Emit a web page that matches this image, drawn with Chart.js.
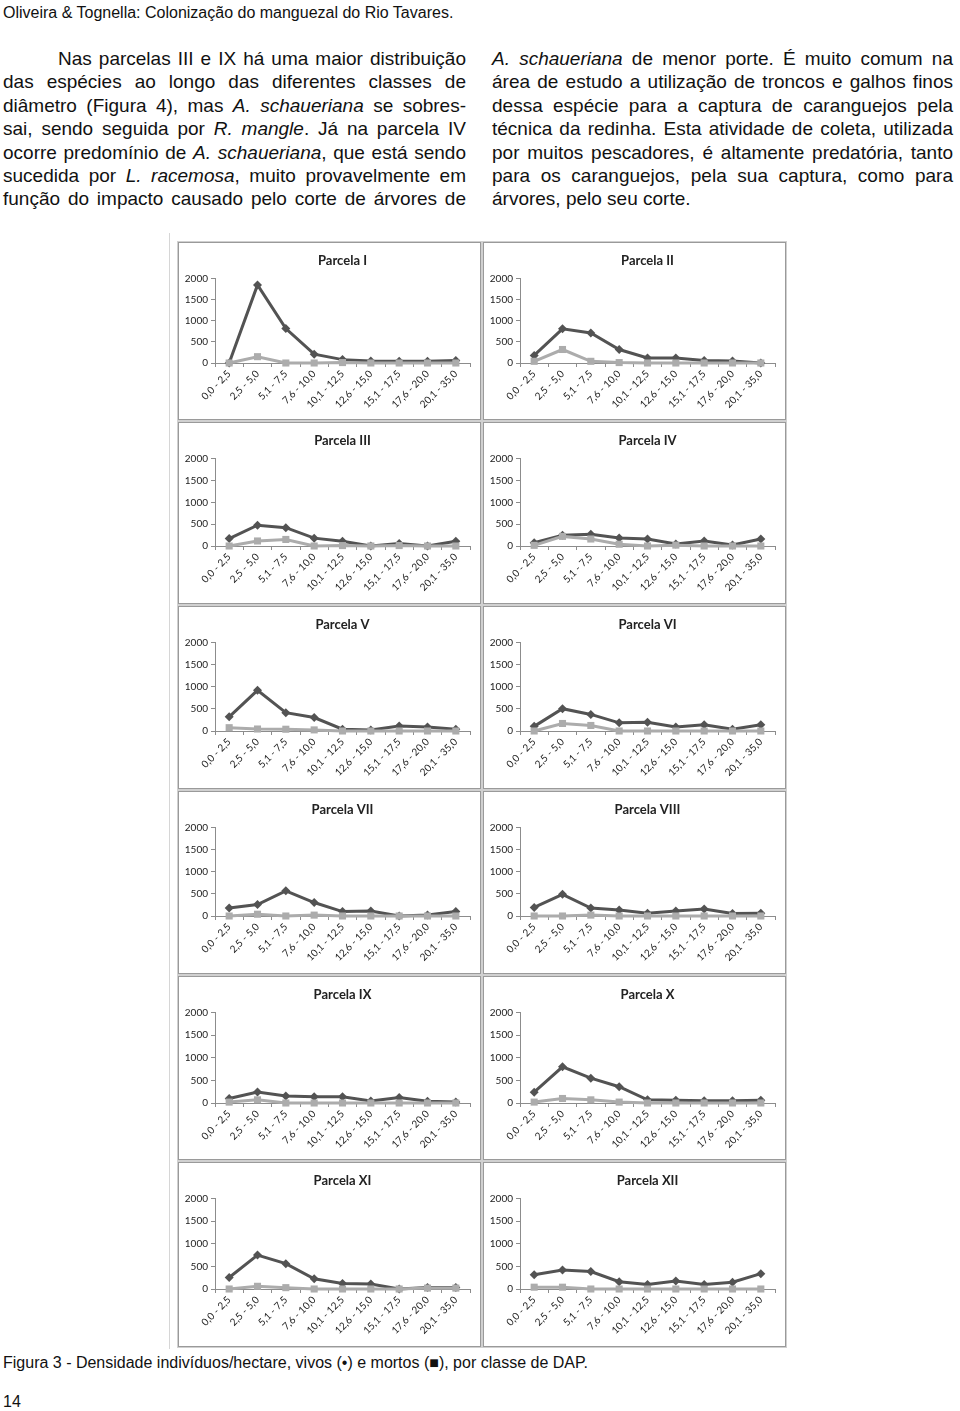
<!DOCTYPE html>
<html lang="pt">
<head>
<meta charset="utf-8">
<script src="https://cdn.jsdelivr.net/npm/chart.js@4.4.1/dist/chart.umd.min.js"></script>
<style>
  body { margin: 0; width: 960px; height: 1411px; background: #fff; position: relative; overflow: hidden;
         font-family: "Liberation Sans", Arial, sans-serif; color: #111; }
  .hdr { position: absolute; left: 3px; top: 4px; font-size: 16px; line-height: 17px; }
  .col { position: absolute; top: 47px; font-size: 19px; line-height: 23.4px; }
  .col div { text-align: justify; text-align-last: justify; }
  .col div.last { text-align-last: left; }
  .frame { position: absolute; left: 169px; top: 233px; width: 1px; height: 1116px; background: #d6d6d6; }
  .panel { position: absolute; border: 1px solid #9a9a9a; box-shadow: 0 0 0 1px #d0d0d0; box-sizing: border-box; pointer-events: none; }
  canvas { position: absolute; }
  .cap { position: absolute; left: 3px; top: 1354px; font-size: 16px; line-height: 17px; }
  .pg { position: absolute; left: 3px; top: 1393px; font-size: 16px; line-height: 17px; }
</style>
</head>
<body>
<div class="hdr">Oliveira &amp; Tognella: Colonização do manguezal do Rio Tavares.</div>

<div class="col" style="left:3px;width:463px">
  <div style="padding-left:55px">Nas parcelas III e IX há uma maior distribuição</div>
  <div>das espécies ao longo das diferentes classes de</div>
  <div>diâmetro (Figura 4), mas <i>A. schaueriana</i> se sobres-</div>
  <div>sai, sendo seguida por <i>R. mangle</i>. Já na parcela IV</div>
  <div>ocorre predomínio de <i>A. schaueriana</i>, que está sendo</div>
  <div>sucedida por <i>L. racemosa</i>, muito provavelmente em</div>
  <div>função do impacto causado pelo corte de árvores de</div>
</div>

<div class="col" style="left:492px;width:461px">
  <div><i>A. schaueriana</i> de menor porte. É muito comum na</div>
  <div>área de estudo a utilização de troncos e galhos finos</div>
  <div>dessa espécie para a captura de caranguejos pela</div>
  <div>técnica da redinha. Esta atividade de coleta, utilizada</div>
  <div>por muitos pescadores, é altamente predatória, tanto</div>
  <div>para os caranguejos, pela sua captura, como para</div>
  <div class="last">árvores, pelo seu corte.</div>
</div>

<div class="frame"></div>
<div id="charts"></div>

<div class="cap">Figura 3 - Densidade indivíduos/hectare, vivos (•) e mortos (■), por classe de DAP.</div>
<div class="pg">14</div>

<script>
// classes de DAP (eixo x)
const classes = ["0,0 - 2,5", "2,5 - 5,0", "5,1 - 7,5", "7,6 - 10,0", "10,1 - 12,5",
                 "12,6 - 15,0", "15,1 - 17,5", "17,6 - 20,0", "20,1 - 35,0"];
const yTicks = [0, 500, 1000, 1500, 2000];

// densidade (ind/ha), vivos e mortos por parcela
const vivosI    = [0, 1850, 815, 210, 80, 50, 40, 40, 60];
const mortosI   = [0, 150, 0, 0, 10, 0, 0, 0, 0];
const vivosII   = [180, 810, 710, 320, 120, 120, 60, 50, 0];
const mortosII  = [40, 320, 40, 10, 0, 0, 0, 0, 0];
const vivosIII  = [170, 475, 420, 180, 110, 0, 55, 0, 110];
const mortosIII = [0, 115, 150, 0, 10, 0, 10, 0, 0];
const vivosIV   = [75, 245, 270, 185, 160, 45, 115, 25, 160];
const mortosIV  = [15, 220, 160, 40, 0, 20, 0, 0, 0];
const vivosV    = [320, 920, 415, 305, 40, 25, 115, 90, 40];
const mortosV   = [75, 45, 40, 25, 0, 0, 0, 0, 0];
const vivosVI   = [105, 505, 375, 185, 200, 90, 140, 40, 140];
const mortosVI  = [0, 170, 125, 0, 0, 0, 0, 0, 0];
const vivosVII  = [180, 260, 570, 305, 100, 115, 0, 25, 100];
const mortosVII = [0, 40, 0, 20, 0, 0, 0, 0, 0];
const vivosVIII = [195, 490, 180, 135, 60, 115, 160, 55, 60];
const mortosVIII= [0, 0, 20, 0, 0, 0, 0, 0, 0];
const vivosIX   = [100, 245, 155, 140, 140, 45, 120, 40, 20];
const mortosIX  = [20, 70, 0, 0, 0, 0, 0, 0, 0];
const vivosX    = [240, 800, 550, 360, 70, 60, 50, 50, 60];
const mortosX   = [20, 100, 70, 20, 0, 0, 0, 0, 0];
const vivosXI   = [255, 750, 560, 225, 120, 110, 0, 35, 35];
const mortosXI  = [0, 60, 30, 0, 0, 0, 0, 20, 20];
const vivosXII  = [315, 420, 385, 160, 100, 175, 100, 150, 340];
const mortosXII = [40, 40, 0, 0, 0, 0, 0, 0, 0];

const titulos = ["Parcela I", "Parcela II", "Parcela III", "Parcela IV", "Parcela V", "Parcela VI",
                 "Parcela VII", "Parcela VIII", "Parcela IX", "Parcela X", "Parcela XI", "Parcela XII"];
const vivos  = [vivosI, vivosII, vivosIII, vivosIV, vivosV, vivosVI, vivosVII, vivosVIII, vivosIX, vivosX, vivosXI, vivosXII];
const mortos = [mortosI, mortosII, mortosIII, mortosIV, mortosV, mortosVI, mortosVII, mortosVIII, mortosIX, mortosX, mortosXI, mortosXII];

// grid of panels on the page
const colX = [178, 483];
const panelW = 303;
const rowTop = [242, 422, 606, 791, 976, 1162];
const rowH = [178, 182, 183, 183, 184, 185];
const plotBottom = [121, 124, 125, 125, 127, 127];

const tickFont = { family: "Lato", size: 10 };
const axisGrey = "#8c8c8c";

const holder = document.getElementById("charts");

titulos.forEach((t, i) => {
  const r = Math.floor(i / 2), c = i % 2;
  const x = colX[c], y = rowTop[r], h = rowH[r];

  const cv = document.createElement("canvas");
  cv.width = panelW; cv.height = h;
  cv.style.left = x + "px"; cv.style.top = y + "px";
  holder.appendChild(cv);

  const box = document.createElement("div");
  box.className = "panel";
  box.style.left = x + "px"; box.style.top = y + "px";
  box.style.width = panelW + "px"; box.style.height = h + "px";
  holder.appendChild(box);

  new Chart(cv.getContext("2d"), {
    type: "line",
    data: {
      labels: classes,
      datasets: [{
        label: "mortos",
        data: mortos[i],
        order: 0,
        clip: false,
        borderColor: "#acacac",
        backgroundColor: "#acacac",
        pointBackgroundColor: "#acacac",
        borderWidth: 3,
        pointStyle: "rect",
        pointRadius: 5,
        pointBorderWidth: 0
      }, {
        label: "vivos",
        data: vivos[i],
        order: 1,
        clip: false,
        borderColor: "#535353",
        backgroundColor: "#535353",
        pointBackgroundColor: "#535353",
        borderWidth: 3,
        pointStyle: "rectRot",
        pointRadius: 4.5,
        pointBorderWidth: 0
      }]
    },
    options: {
      responsive: false,
      animation: false,
      events: [],
      layout: { padding: { left: 0, right: panelW - 292, top: 0, bottom: 0 } },
      plugins: {
        legend: { display: false },
        tooltip: { enabled: false },
        title: {
          display: true,
          fullSize: false,
          text: t,
          color: "#222",
          font: { family: "Lato", size: 13, weight: "bold" },
          padding: { top: 11, bottom: 10 }
        }
      },
      scales: {
        x: {
          offset: true,
          grid: { drawOnChartArea: false, offset: true, tickLength: 4, color: axisGrey },
          border: { color: axisGrey },
          ticks: { autoSkip: false, minRotation: 45, maxRotation: 45, color: "#222", font: tickFont, padding: 1 },
          afterFit: s => { s.height = h - plotBottom[r]; }
        },
        y: {
          min: yTicks[0],
          max: yTicks[yTicks.length - 1],
          afterBuildTicks: s => { s.ticks = yTicks.map(v => ({ value: v })); },
          grid: { drawOnChartArea: false, tickLength: 4, color: axisGrey },
          border: { color: axisGrey },
          ticks: { color: "#222", font: tickFont, padding: 3, callback: v => String(v) },
          afterFit: s => { s.width = 37; }
        }
      }
    }
  });
});
</script>
</body>
</html>
